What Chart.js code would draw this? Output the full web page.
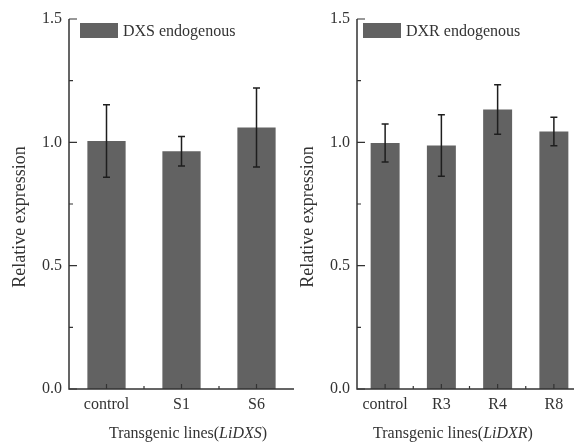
<!DOCTYPE html>
<html>
<head>
<meta charset="utf-8">
<script src="https://cdn.jsdelivr.net/npm/chart.js@4"></script>
<style>
html, body { margin: 0; padding: 0; background: #fff; overflow: hidden; }
#wrap { position: relative; width: 574px; height: 445px; overflow: hidden; }
.panel { position: absolute; top: 0; width: 300px; height: 445px; }
#leftPanel { left: 0; }
#rightPanel { left: 290px; }
</style>
</head>
<body>
<div id="wrap">
  <div class="panel" id="leftPanel"><canvas id="dxsChart"></canvas></div>
  <div class="panel" id="rightPanel"><canvas id="dxrChart"></canvas></div>
</div>
<script>
// ==========================
// DATA
// ==========================

const dxsLines = ["control", "S1", "S6"];
const dxsValues = [1.005, 0.964, 1.06];
const dxsErrors = [0.147, 0.06, 0.16];

const dxrLines = ["control", "R3", "R4", "R8"];
const dxrValues = [0.997, 0.987, 1.133, 1.044];
const dxrErrors = [0.077, 0.125, 0.1, 0.058];

const majorTicks = [0, 0.5, 1.0, 1.5];
const minorTicks = [0.25, 0.75, 1.25];

const serif = "'Liberation Serif', 'Times New Roman', serif";
const textColor = "#333";
const barColor = "#626262";

// ==========================
// ERROR BARS, TICKS, LEGEND, TITLES
// ==========================

const panelDecor = {
    id: "panelDecor",
    afterDraw(chart, args, opts) {
        const ctx = chart.ctx;
        const x = chart.scales.x;
        const y = chart.scales.y;
        const area = chart.chartArea;
        const ds = chart.data.datasets[0];
        const meta = chart.getDatasetMeta(0);

        ctx.save();

        // error bars
        ctx.strokeStyle = "#1e1e1e";
        ctx.lineWidth = 1.5;
        meta.data.forEach((bar, i) => {
            const v = ds.data[i];
            const hi = y.getPixelForValue(v + ds.errors[i]);
            const lo = y.getPixelForValue(v - ds.errors[i]);
            ctx.beginPath();
            ctx.moveTo(bar.x, hi);
            ctx.lineTo(bar.x, lo);
            ctx.moveTo(bar.x - 3.5, hi);
            ctx.lineTo(bar.x + 3.5, hi);
            ctx.moveTo(bar.x - 3.5, lo);
            ctx.lineTo(bar.x + 3.5, lo);
            ctx.stroke();
        });

        // axis lines
        ctx.strokeStyle = "#333";
        ctx.lineWidth = 1.5;
        ctx.beginPath();
        ctx.moveTo(area.left, area.top);
        ctx.lineTo(area.left, area.bottom);
        ctx.lineTo(area.right, area.bottom);
        ctx.stroke();

        // inward ticks
        ctx.lineWidth = 1.2;
        ctx.beginPath();
        majorTicks.forEach(t => {
            const py = y.getPixelForValue(t);
            ctx.moveTo(area.left, py);
            ctx.lineTo(area.left + 8, py);
        });
        minorTicks.forEach(t => {
            const py = y.getPixelForValue(t);
            ctx.moveTo(area.left, py);
            ctx.lineTo(area.left + 4, py);
        });
        chart.data.labels.forEach((l, i) => {
            const px = x.getPixelForValue(i);
            ctx.moveTo(px, area.bottom);
            ctx.lineTo(px, area.bottom - 5);
            if (i > 0) {
                const bx = (px + x.getPixelForValue(i - 1)) / 2;
                ctx.moveTo(bx, area.bottom);
                ctx.lineTo(bx, area.bottom - 3);
            }
        });
        ctx.stroke();

        // legend
        ctx.fillStyle = barColor;
        ctx.fillRect(area.left + opts.legendX, area.top + 4, 38, 15);
        ctx.fillStyle = textColor;
        ctx.font = "16px " + serif;
        ctx.textBaseline = "alphabetic";
        ctx.textAlign = "left";
        ctx.fillText(ds.label, area.left + opts.legendX + 43, area.top + 17);

        // y title
        ctx.save();
        ctx.translate(area.left - 49, 217);
        ctx.rotate(-Math.PI / 2);
        ctx.textAlign = "center";
        ctx.textBaseline = "middle";
        ctx.font = "18px " + serif;
        ctx.fillText("Relative expression", 0, 0);
        ctx.restore();

        // x title with italic gene name
        const parts = [
            { text: "Transgenic lines(", font: "16px " + serif },
            { text: opts.gene, font: "italic 16px " + serif },
            { text: ")", font: "16px " + serif }
        ];
        let total = 0;
        parts.forEach(p => {
            ctx.font = p.font;
            p.w = ctx.measureText(p.text).width;
            total += p.w;
        });
        let cx = area.left + opts.xTitleCenter - total / 2;
        parts.forEach(p => {
            ctx.font = p.font;
            ctx.fillText(p.text, cx, 438);
            cx += p.w;
        });

        ctx.restore();
    }
};

// ==========================
// CHART BUILDER
// ==========================

function makePanel(canvasId, lines, values, errors, label, gene, axisWidth, rightPad, legendX, xTitleCenter, barPct) {
    return new Chart(document.getElementById(canvasId), {
        type: "bar",
        data: {
            labels: lines,
            datasets: [{
                label: label,
                data: values,
                errors: errors,
                backgroundColor: barColor,
                borderWidth: 0,
                barPercentage: barPct,
                categoryPercentage: 1
            }]
        },
        options: {
            responsive: true,
            maintainAspectRatio: false,
            animation: false,
            layout: {
                padding: { top: 19, right: rightPad, left: 0, bottom: 0 }
            },
            plugins: {
                legend: { display: false },
                tooltip: { enabled: false },
                panelDecor: { gene: gene, legendX: legendX, xTitleCenter: xTitleCenter }
            },
            scales: {
                x: {
                    grid: { display: false, drawTicks: false },
                    border: { display: false },
                    ticks: {
                        color: textColor,
                        font: { family: serif, size: 16 },
                        padding: 6,
                        maxRotation: 0
                    },
                    afterFit: s => { s.height = 56; }
                },
                y: {
                    min: 0,
                    max: 1.5,
                    grid: { display: false, drawTicks: false },
                    border: { display: false },
                    ticks: {
                        stepSize: 0.5,
                        color: textColor,
                        font: { family: serif, size: 16 },
                        padding: 7,
                        callback: v => v.toFixed(1)
                    },
                    afterFit: s => { s.width = axisWidth; }
                }
            }
        },
        plugins: [panelDecor]
    });
}

makePanel("dxsChart", dxsLines, dxsValues, dxsErrors, "DXS endogenous", "LiDXS", 69, 6, 11, 119, 0.51);
makePanel("dxrChart", dxrLines, dxrValues, dxrErrors, "DXR endogenous", "LiDXR", 67, 8, 6, 96, 0.515);
</script>
</body>
</html>
